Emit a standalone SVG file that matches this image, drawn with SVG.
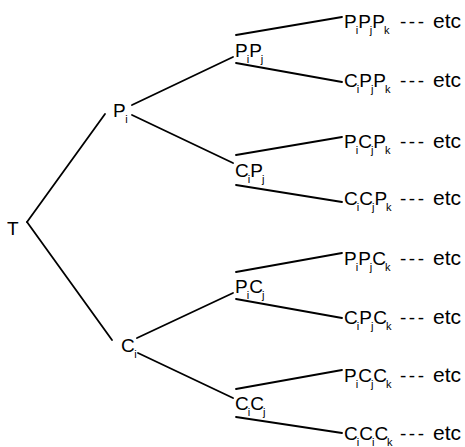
<svg xmlns="http://www.w3.org/2000/svg" width="465" height="447" viewBox="0 0 465 447">
<style>
.l{stroke:#000;stroke-width:1.8;fill:none;stroke-linecap:round}
text{font-family:"Liberation Sans",Arial,sans-serif;font-size:19px;fill:#000}
.s{font-size:11px}
.d{letter-spacing:2.5px}
.e{font-size:21px}
</style>
<rect width="465" height="447" fill="#fff"/>
<g id="connectors">
<line class="l" x1="27" y1="222" x2="105" y2="114"/>
<line class="l" x1="27" y1="222" x2="112" y2="340"/>
<line class="l" x1="132" y1="105" x2="233" y2="57"/>
<line class="l" x1="132" y1="115" x2="233" y2="163"/>
<line class="l" x1="137" y1="338" x2="233" y2="293"/>
<line class="l" x1="138" y1="353" x2="233" y2="398"/>
<line class="l" x1="236" y1="35" x2="342" y2="17"/>
<line class="l" x1="236" y1="63" x2="342" y2="82"/>
<line class="l" x1="236" y1="155" x2="342" y2="137"/>
<line class="l" x1="236" y1="185" x2="342" y2="202"/>
<line class="l" x1="236" y1="272" x2="342" y2="253"/>
<line class="l" x1="236" y1="299" x2="342" y2="318"/>
<line class="l" x1="236" y1="389" x2="342" y2="370"/>
<line class="l" x1="236" y1="417" x2="342" y2="433"/>
</g>
<g id="nodes" opacity="0.999">
<g id="T"><text x="7" y="235">T</text></g>
<g id="Pi"><text x="113" y="117">P<tspan class="s" dx="-0.5" dy="6">i</tspan></text></g>
<g id="Ci"><text x="121" y="352">C<tspan class="s" dx="-0.5" dy="6">i</tspan></text></g>
<g id="PiPj"><text x="235" y="57">P<tspan class="s" dx="-1" dy="6">i</tspan><tspan dy="-6">P</tspan><tspan class="s" dx="-1" dy="6">j</tspan></text></g>
<g id="CiPj"><text x="235" y="177">C<tspan class="s" dx="-1" dy="6">i</tspan><tspan dy="-6">P</tspan><tspan class="s" dx="-1" dy="6">j</tspan></text></g>
<g id="PiCj"><text x="235" y="293">P<tspan class="s" dx="-1" dy="6">i</tspan><tspan dy="-6">C</tspan><tspan class="s" dx="-1" dy="6">j</tspan></text></g>
<g id="CiCj"><text x="235" y="410">C<tspan class="s" dx="-1" dy="6">i</tspan><tspan dy="-6">C</tspan><tspan class="s" dx="-1" dy="6">j</tspan></text></g>
<g id="PiPjPk"><text x="344" y="28">P<tspan class="s" dx="-1" dy="6">i</tspan><tspan dy="-6">P</tspan><tspan class="s" dx="-1" dy="6">j</tspan><tspan dy="-6">P</tspan><tspan class="s" dx="-1" dy="6">k</tspan></text><text class="d" x="400" y="28">---</text><text class="e" x="433" y="28">etc</text></g>
<g id="CiPjPk"><text x="344" y="87">C<tspan class="s" dx="-1" dy="6">i</tspan><tspan dy="-6">P</tspan><tspan class="s" dx="-1" dy="6">j</tspan><tspan dy="-6">P</tspan><tspan class="s" dx="-1" dy="6">k</tspan></text><text class="d" x="400" y="87">---</text><text class="e" x="433" y="87">etc</text></g>
<g id="PiCjPk"><text x="344" y="148">P<tspan class="s" dx="-1" dy="6">i</tspan><tspan dy="-6">C</tspan><tspan class="s" dx="-1" dy="6">j</tspan><tspan dy="-6">P</tspan><tspan class="s" dx="-1" dy="6">k</tspan></text><text class="d" x="400" y="148">---</text><text class="e" x="433" y="148">etc</text></g>
<g id="CiCjPk"><text x="344" y="205">C<tspan class="s" dx="-1" dy="6">i</tspan><tspan dy="-6">C</tspan><tspan class="s" dx="-1" dy="6">j</tspan><tspan dy="-6">P</tspan><tspan class="s" dx="-1" dy="6">k</tspan></text><text class="d" x="400" y="205">---</text><text class="e" x="433" y="205">etc</text></g>
<g id="PiPjCk"><text x="344" y="265">P<tspan class="s" dx="-1" dy="6">i</tspan><tspan dy="-6">P</tspan><tspan class="s" dx="-1" dy="6">j</tspan><tspan dy="-6">C</tspan><tspan class="s" dx="-1" dy="6">k</tspan></text><text class="d" x="400" y="265">---</text><text class="e" x="433" y="265">etc</text></g>
<g id="CiPjCk"><text x="344" y="324">C<tspan class="s" dx="-1" dy="6">i</tspan><tspan dy="-6">P</tspan><tspan class="s" dx="-1" dy="6">j</tspan><tspan dy="-6">C</tspan><tspan class="s" dx="-1" dy="6">k</tspan></text><text class="d" x="400" y="324">---</text><text class="e" x="433" y="324">etc</text></g>
<g id="PiCjCk"><text x="344" y="382">P<tspan class="s" dx="-1" dy="6">i</tspan><tspan dy="-6">C</tspan><tspan class="s" dx="-1" dy="6">j</tspan><tspan dy="-6">C</tspan><tspan class="s" dx="-1" dy="6">k</tspan></text><text class="d" x="400" y="382">---</text><text class="e" x="433" y="382">etc</text></g>
<g id="CiCiCk"><text x="344" y="440">C<tspan class="s" dx="-1" dy="6">i</tspan><tspan dy="-6">C</tspan><tspan class="s" dx="-1" dy="6">i</tspan><tspan dy="-6">C</tspan><tspan class="s" dx="-1" dy="6">k</tspan></text><text class="d" x="400" y="440">---</text><text class="e" x="433" y="440">etc</text></g>
</g>
</svg>
